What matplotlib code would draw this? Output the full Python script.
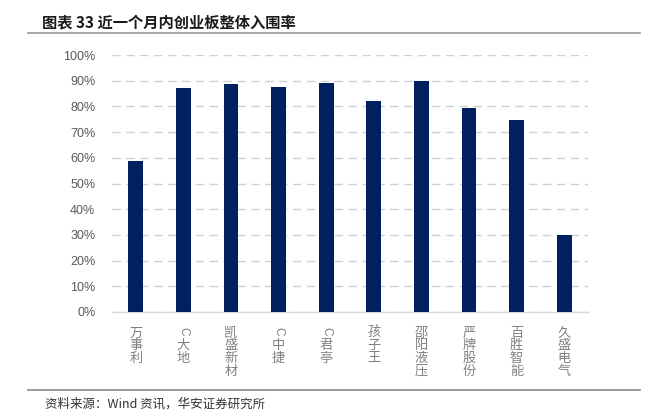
import matplotlib
matplotlib.use("Agg")
import matplotlib.pyplot as plt
from matplotlib.lines import Line2D

plt.rcParams['font.family'] = ['Noto Sans CJK SC', 'DejaVu Sans']

categories = ["万事利", "C大地", "凯盛新材", "C中捷", "C君亭", "孩子王", "邵阳液压", "严牌股份", "百胜智能", "久盛电气"]
values = [58.8, 87.0, 88.8, 87.7, 89.2, 82.1, 89.9, 79.3, 74.8, 30.0]
yticks = [0, 10, 20, 30, 40, 50, 60, 70, 80, 90, 100]
ytick_labels = [f"{v}%" for v in yticks]
title = "图表 33 近一个月内创业板整体入围率"
source = "资料来源：Wind 资讯，华安证券研究所"

fig = plt.figure(figsize=(6.67, 4.2), dpi=100)
ax = fig.add_axes([112/667, (420-312)/420, 476/667, (312-55)/420])

x = list(range(len(categories)))
ax.bar(x, values, width=0.31, color="#002060", zorder=3)
ax.set_xlim(-0.5, len(categories) - 0.5)
ax.set_ylim(0, 100)
ax.set_yticks(yticks)
ax.set_yticklabels(ytick_labels, fontsize=9, color="#595959", family=['Liberation Sans', 'DejaVu Sans'])
ax.tick_params(axis='y', length=0, pad=12)
ax.set_xticks([])
ax.yaxis.grid(True, color="#d0d0d0", linestyle=(0, (6, 4)), linewidth=1.0, zorder=0)
for s in ["top", "right", "left"]:
    ax.spines[s].set_visible(False)
ax.spines["bottom"].set_color("#d9d9d9")
ax.spines["bottom"].set_linewidth(1.0)

# vertical category labels
for i, name in enumerate(categories):
    off = 10.5  # points below axis (top of first glyph)
    for ch in name:
        if ch.isascii():
            ax.annotate(ch, xy=(i, 0), xycoords='data', xytext=(0, -off), textcoords='offset points',
                        ha='center', va='top', rotation=-90, fontsize=8.5, color="#7f7f7f",
                        family=['Liberation Sans', 'DejaVu Sans'], annotation_clip=False)
            off += 9.0
        else:
            ax.annotate(ch, xy=(i, 0), xycoords='data', xytext=(0, -off), textcoords='offset points',
                        ha='center', va='top', fontsize=9.5, color="#808080", annotation_clip=False)
            off += 9.2

# title and rules
fig.text(42/667, 1 - 22/420, title, fontsize=11, fontweight='bold', color="#1a1a1a",
         ha='left', va='center')
fig.add_artist(Line2D([28/667, 640/667], [1 - 33/420, 1 - 33/420], color="#9a9a9a", linewidth=1.2))
fig.add_artist(Line2D([28/667, 640/667], [1 - 390/420, 1 - 390/420], color="#8a8a8a", linewidth=1.2))
fig.text(45/667, 1 - 404/420, source, fontsize=9, color="#333333", ha='left', va='center')

fig.savefig("out.png", dpi=100)
